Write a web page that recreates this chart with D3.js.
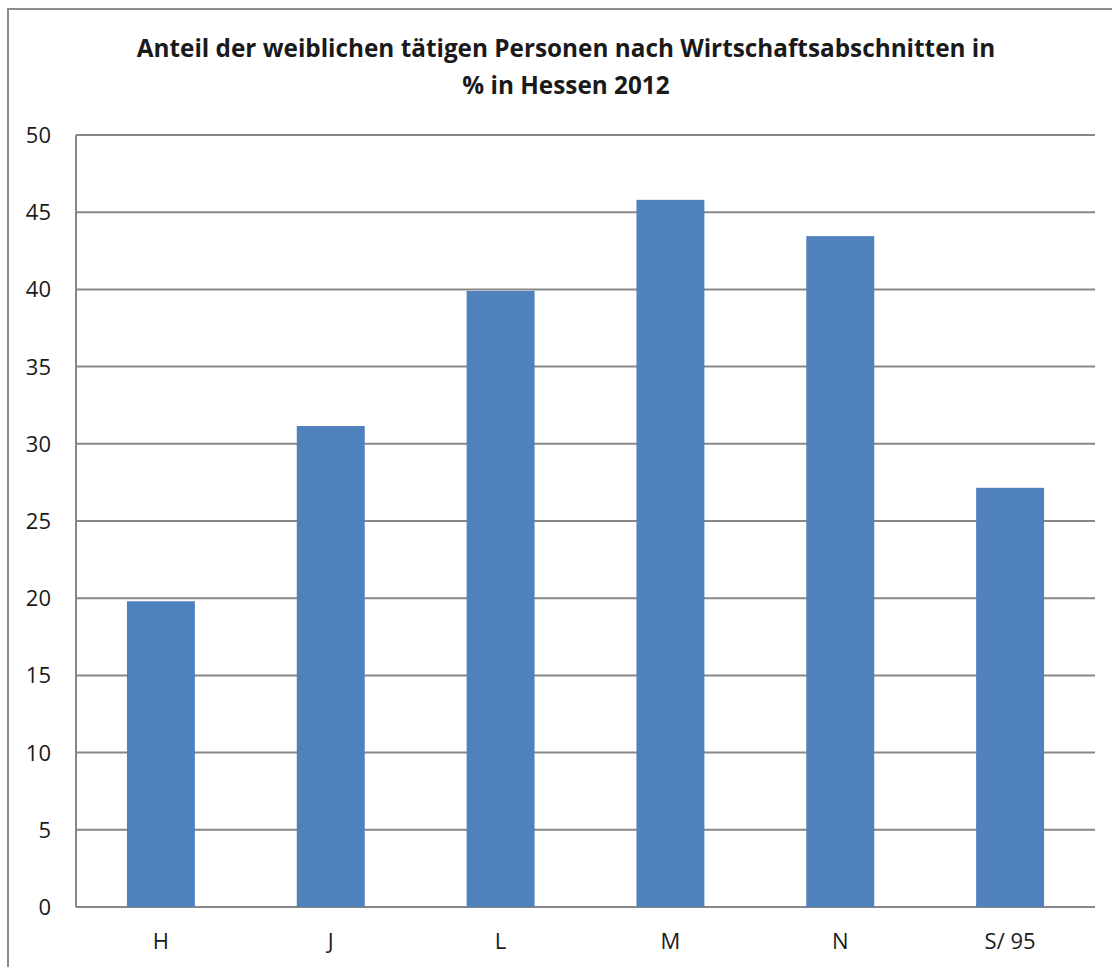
<!DOCTYPE html>
<html>
<head>
<meta charset="utf-8">
<script src="https://cdnjs.cloudflare.com/ajax/libs/d3/7.8.5/d3.min.js"></script>
<style>
  body { margin: 0; background: #fff; }
  svg { display: block; }
  text { font-family: "Open Sans", "Liberation Sans", sans-serif; fill: #1a1a1a; }
</style>
</head>
<body>
<script>
var categories = ["H", "J", "L", "M", "N", "S/ 95"];
var values = [19.8, 31.15, 39.9, 45.8, 43.45, 27.15];
var yTicks = [0, 5, 10, 15, 20, 25, 30, 35, 40, 45, 50];
var titleLines = ["Anteil der weiblichen tätigen Personen nach Wirtschaftsabschnitten in", "% in Hessen 2012"];

var width = 1112,
    height = 967;

var margin = {top: 135, right: 17, bottom: 60, left: 76};

var svg = d3.select("body").append("svg")
    .attr("width", width)
    .attr("height", height);

// outer chart frame (runs off the right/bottom edge)
svg.append("rect")
    .attr("x", 8).attr("y", 9)
    .attr("width", 1120).attr("height", 980)
    .style("fill", "none")
    .style("stroke", "#8c8c8c")
    .style("stroke-width", 2);

var title = svg.selectAll(".title")
    .data(titleLines)
    .enter().append("text")
    .attr("class", "title")
    .attr("x", 566)
    .attr("y", function(d, i) { return 57 + i * 36.5; })
    .attr("text-anchor", "middle")
    .style("font-size", "20px")
    .style("font-weight", "bold")
    .text(function(d) { return d; });

// fit the first title line to the width seen in the original (~859px)
var w0 = title.node().getComputedTextLength();
title.style("font-size", (20 * 859 / w0) + "px");

var x = d3.scaleBand()
    .domain(categories)
    .range([margin.left, width - margin.right])
    .paddingInner(0.6)
    .paddingOuter(0.3);

var y = d3.scaleLinear()
    .domain([0, 50])
    .range([height - margin.bottom, margin.top]);

var g = svg.append("g");

g.selectAll(".grid")
    .data(yTicks)
    .enter().append("line")
    .attr("class", "grid")
    .attr("x1", margin.left)
    .attr("x2", width - margin.right)
    .attr("y1", function(d) { return y(d); })
    .attr("y2", function(d) { return y(d); })
    .style("stroke", "#878787")
    .style("stroke-width", 2);

g.selectAll(".bar")
    .data(values)
    .enter().append("rect")
    .attr("class", "bar")
    .attr("x", function(d, i) { return x(categories[i]); })
    .attr("width", x.bandwidth())
    .attr("y", function(d) { return y(d); })
    .attr("height", function(d) { return y(0) - y(d); })
    .style("fill", "#4f81bd");

// y axis line
g.append("line")
    .attr("x1", margin.left).attr("x2", margin.left)
    .attr("y1", y(50)).attr("y2", y(0))
    .style("stroke", "#878787")
    .style("stroke-width", 2);

g.selectAll(".ylab")
    .data(yTicks)
    .enter().append("text")
    .attr("class", "ylab")
    .attr("x", 51)
    .attr("y", function(d) { return y(d); })
    .attr("dy", "0.36em")
    .attr("text-anchor", "end")
    .style("font-size", "22px")
    .text(function(d) { return d; });

g.selectAll(".xlab")
    .data(categories)
    .enter().append("text")
    .attr("class", "xlab")
    .attr("x", function(d) { return x(d) + x.bandwidth() / 2; })
    .attr("y", y(0) + 34)
    .attr("dy", "0.36em")
    .attr("text-anchor", "middle")
    .style("font-size", "22px")
    .text(function(d) { return d; });
</script>
</body>
</html>
